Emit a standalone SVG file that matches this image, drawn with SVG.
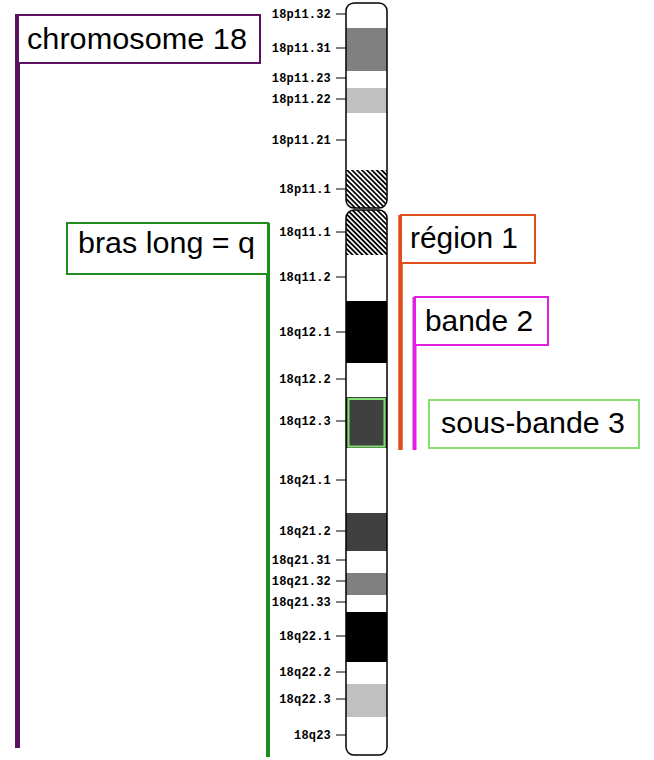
<svg xmlns="http://www.w3.org/2000/svg" width="654" height="760" viewBox="0 0 654 760">
<style>
.lbl{font-family:"Liberation Mono","DejaVu Sans Mono",monospace;font-size:12px;font-weight:bold;letter-spacing:0.2px;text-anchor:end;fill:#000}
.tick{stroke:#000;stroke-width:1}
.big{font-family:"Liberation Sans",Arial,sans-serif;font-size:29px;fill:#000}
.box{fill:#fff;stroke-width:2}
.outline{fill:none;stroke:#000;stroke-width:1.5}
</style>
<defs>
<pattern id="hatch" patternUnits="userSpaceOnUse" width="6" height="3.5" patternTransform="rotate(45)">
<rect x="0" y="0" width="6" height="3.5" fill="#fff"/>
<rect x="0" y="0" width="6" height="1.8" fill="#000"/>
</pattern>
<clipPath id="pclip"><rect x="346" y="3" width="41" height="205" rx="8"/></clipPath>
<clipPath id="qclip"><rect x="346" y="210" width="41" height="545" rx="8"/></clipPath>
</defs>
<rect width="654" height="760" fill="#fff"/>

<g id="chromosome">
<g clip-path="url(#pclip)">
<rect x="346" y="3" width="41" height="205" fill="#fff"/>
<rect x="346" y="28" width="41" height="43" fill="#808080"/>
<rect x="346" y="88" width="41" height="25" fill="#c0c0c0"/>
<rect x="346" y="170" width="41" height="38" fill="url(#hatch)"/>
</g>
<rect class="outline" x="346" y="3" width="41" height="205" rx="8"/>
<g clip-path="url(#qclip)">
<rect x="346" y="210" width="41" height="545" fill="#fff"/>
<rect x="346" y="210" width="41" height="45" fill="url(#hatch)"/>
<rect x="346" y="301" width="41" height="62" fill="#000"/>
<rect x="346" y="397" width="41" height="51" fill="#404040"/>
<rect x="346" y="513" width="41" height="38" fill="#404040"/>
<rect x="346" y="573" width="41" height="22" fill="#808080"/>
<rect x="346" y="612" width="41" height="50" fill="#000"/>
<rect x="346" y="684" width="41" height="33" fill="#c0c0c0"/>
</g>
<rect class="outline" x="346" y="210" width="41" height="545" rx="8"/>
<rect x="348.5" y="399" width="36" height="47.5" fill="none" stroke="#80e070" stroke-width="2"/>
</g>

<g id="band-labels">
<line class="tick" x1="336" y1="14" x2="346" y2="14"/><text class="lbl" x="331" y="18">18p11.32</text>
<line class="tick" x1="336" y1="48" x2="346" y2="48"/><text class="lbl" x="331" y="52">18p11.31</text>
<line class="tick" x1="336" y1="78" x2="346" y2="78"/><text class="lbl" x="331" y="82">18p11.23</text>
<line class="tick" x1="336" y1="99" x2="346" y2="99"/><text class="lbl" x="331" y="103">18p11.22</text>
<line class="tick" x1="336" y1="140" x2="346" y2="140"/><text class="lbl" x="331" y="144">18p11.21</text>
<line class="tick" x1="336" y1="189" x2="346" y2="189"/><text class="lbl" x="331" y="193">18p11.1</text>
<line class="tick" x1="336" y1="232" x2="346" y2="232"/><text class="lbl" x="331" y="236">18q11.1</text>
<line class="tick" x1="336" y1="277" x2="346" y2="277"/><text class="lbl" x="331" y="281">18q11.2</text>
<line class="tick" x1="336" y1="332" x2="346" y2="332"/><text class="lbl" x="331" y="336">18q12.1</text>
<line class="tick" x1="336" y1="379" x2="346" y2="379"/><text class="lbl" x="331" y="383">18q12.2</text>
<line class="tick" x1="336" y1="421" x2="346" y2="421"/><text class="lbl" x="331" y="425">18q12.3</text>
<line class="tick" x1="336" y1="480" x2="346" y2="480"/><text class="lbl" x="331" y="484">18q21.1</text>
<line class="tick" x1="336" y1="531" x2="346" y2="531"/><text class="lbl" x="331" y="535">18q21.2</text>
<line class="tick" x1="336" y1="560" x2="346" y2="560"/><text class="lbl" x="331" y="564">18q21.31</text>
<line class="tick" x1="336" y1="581" x2="346" y2="581"/><text class="lbl" x="331" y="585">18q21.32</text>
<line class="tick" x1="336" y1="602" x2="346" y2="602"/><text class="lbl" x="331" y="606">18q21.33</text>
<line class="tick" x1="336" y1="636" x2="346" y2="636"/><text class="lbl" x="331" y="640">18q22.1</text>
<line class="tick" x1="336" y1="672" x2="346" y2="672"/><text class="lbl" x="331" y="676">18q22.2</text>
<line class="tick" x1="336" y1="699" x2="346" y2="699"/><text class="lbl" x="331" y="703">18q22.3</text>
<line class="tick" x1="336" y1="735" x2="346" y2="735"/><text class="lbl" x="331" y="739">18q23</text>
</g>

<g id="connectors">
<line x1="17.5" y1="14" x2="17.5" y2="748" stroke="#5b1060" stroke-width="5"/>
<line x1="268" y1="223" x2="268" y2="757" stroke="#1f8c1f" stroke-width="4"/>
<line x1="400.5" y1="215" x2="400.5" y2="450" stroke="#e04e1c" stroke-width="4.5"/>
<line x1="414.5" y1="297" x2="414.5" y2="450" stroke="#e020e0" stroke-width="4"/>
</g>

<g id="chromosome-18">
<rect class="box" x="18" y="15" width="242" height="48" stroke="#5b1060"/>
<text class="big" x="27" y="49" textLength="220" lengthAdjust="spacingAndGlyphs">chromosome 18</text>
</g>
<g id="bras-long">
<rect class="box" x="67" y="223" width="201" height="51" stroke="#1f8c1f"/>
<text class="big" x="78" y="253" textLength="177" lengthAdjust="spacingAndGlyphs">bras long = q</text>
</g>
<g id="region-1">
<rect class="box" x="401" y="215" width="134" height="48" stroke="#e04e1c"/>
<text class="big" x="410" y="248" textLength="108" lengthAdjust="spacingAndGlyphs">région 1</text>
</g>
<g id="bande-2">
<rect class="box" x="415" y="297" width="133" height="48" stroke="#e020e0"/>
<text class="big" x="425" y="331" textLength="108" lengthAdjust="spacingAndGlyphs">bande 2</text>
</g>
<g id="sous-bande-3">
<rect class="box" x="429" y="400" width="210" height="48" stroke="#88e070"/>
<text class="big" x="441" y="433" textLength="184" lengthAdjust="spacingAndGlyphs">sous-bande 3</text>
</g>
</svg>
